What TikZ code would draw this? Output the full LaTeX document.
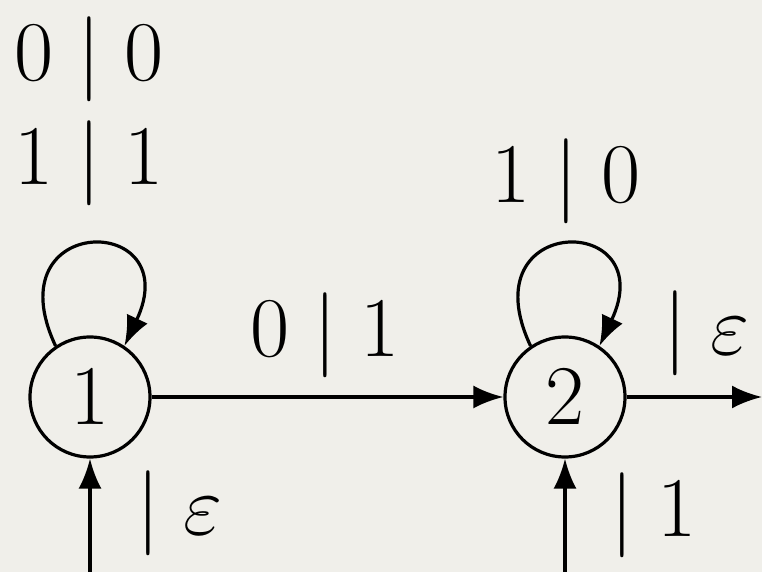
\RequirePackage{fix-cm}
\documentclass[tikz,border=0pt]{standalone}
\usetikzlibrary{arrows.meta}
\definecolor{paper}{RGB}{240,239,234}
\begin{document}
\begin{tikzpicture}[x=0.5pt,y=-0.5pt,
  every node/.style={font=\fontsize{42.5}{51}\selectfont, inner sep=0pt},
  state/.style={circle, draw, line width=1.6pt, minimum size=60pt},
  arr/.style={line width=1.6pt, -{Latex[length=15pt,width=11.5pt]}},
  lbl/.style={anchor=base},
  lblw/.style={anchor=base west}]
\fill[paper] (0,0) rectangle (762,572);
\useasboundingbox (0,0) rectangle (762,572);
\node[state] (n1) at (90,397) {$1$};
\node[state] (n2) at (565,397) {$2$};
\coordinate (in1) at (90,572);
\coordinate (in2) at (565,572);
\coordinate (out2) at (762,397);
\draw[arr] (in1) -- (n1);
\draw[arr] (in2) -- (n2);
\draw[arr] (n1) -- (n2);
\draw[arr] (n2) -- (out2);
\draw[arr] (n1.124) .. controls +(-63,-134) and +(63,-134) .. (n1.56);
\draw[arr] (n2.124) .. controls +(-63,-134) and +(63,-134) .. (n2.56);
\node[lbl] (l00) at (89,81) {$0 \mid 0$};
\node[lbl] (l11) at (89,185) {$1 \mid 1$};
\node[lbl] (l10) at (566,203) {$1 \mid 0$};
\node[lbl] (l01) at (325,357) {$0 \mid 1$};
\node[lblw] (le2) at (663,355) {$\mid \varepsilon$};
\node[lblw] (le1) at (136,535) {$\mid \varepsilon$};
\node[lblw] (l1) at (610,537) {$\mid 1$};
\end{tikzpicture}
\end{document}
